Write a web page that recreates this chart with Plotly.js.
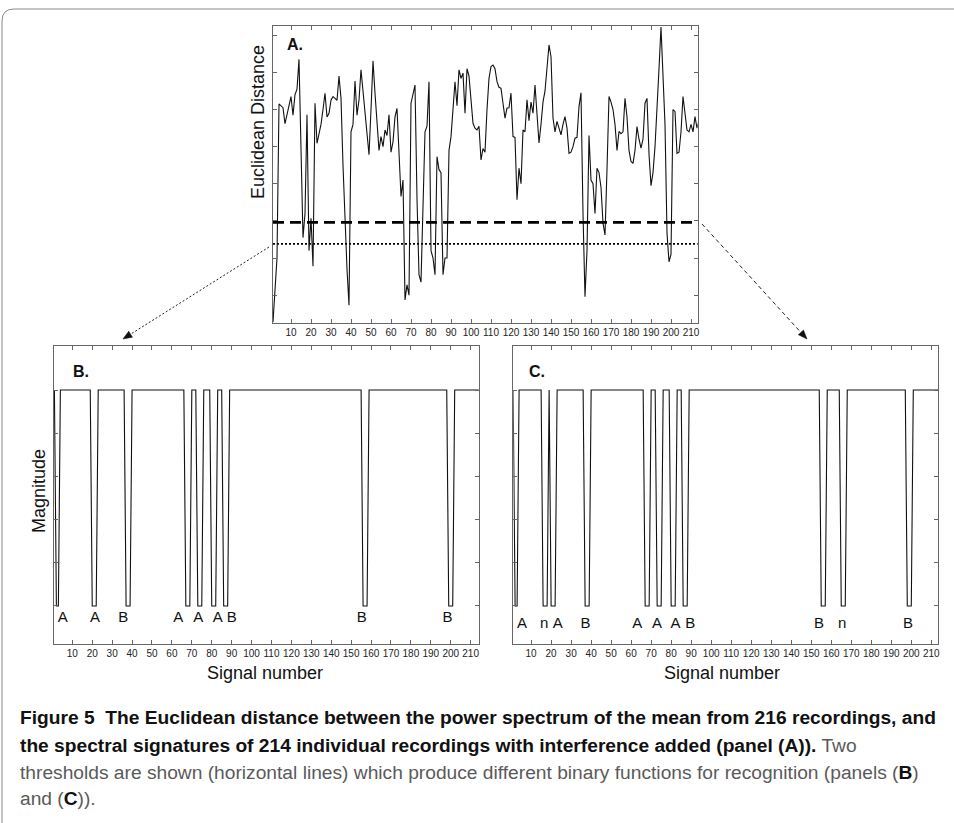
<!DOCTYPE html>
<html><head><meta charset="utf-8">
<script src="https://cdn.plot.ly/plotly-3.0.1.min.js"></script>
<style>html,body{margin:0;padding:0;background:#fff}#chart{width:954px;height:823px}</style>
</head><body><div id="chart"></div>
<script>
// ---- data ----
const signalNumber = Array.from({length: 214}, (_, k) => k + 1);
const euclideanDistance = [
 -0.72, 0.3, 1.0, 5.15, 5.1, 5.05, 4.62, 4.85, 5.1, 5.35,
 4.85, 5.4, 5.55, 6.35, 3.95, 1.55, 2.2, 4.86, 1.2, 2.07,
 0.78, 5.17, 4.09, 4.33, 4.6, 5.0, 5.44, 4.8, 4.9, 5.25,
 5.35, 5.3, 5.25, 5.9, 5.3, 3.5, 2.0, 0.7, -0.27, 4.4,
 4.6, 5.77, 4.85, 5.26, 6.07, 5.45, 4.9, 4.4, 3.78, 5.0,
 6.31, 5.44, 4.67, 3.9, 4.27, 4.0, 4.45, 4.3, 4.86, 3.85,
 4.13, 4.8, 5.03, 4.0, 2.66, 3.1, -0.13, 0.28, 0.0, 5.17,
 5.4, 5.66, 2.6, 0.55, 0.35, 2.2, 4.4, 4.55, 5.75, 1.2,
 1.0, 0.55, 3.73, 3.38, 3.3, 0.55, 1.0, 1.0, 3.9, 4.27,
 5.17, 5.75, 5.1, 6.07, 5.84, 5.98, 4.9, 6.1, 5.9, 5.3,
 4.63, 4.5, 4.45, 4.55, 3.64, 3.95, 3.85, 5.0, 5.84, 6.16,
 6.2, 6.1, 5.75, 5.6, 5.57, 5.17, 4.77, 5.04, 5.05, 5.44,
 4.27, 4.25, 2.57, 3.42, 3.0, 4.45, 4.4, 5.26, 4.7, 5.2,
 4.9, 5.66, 4.8, 4.1, 4.6, 5.2, 5.5, 6.16, 6.74, 6.43,
 4.77, 4.4, 4.68, 4.5, 4.32, 4.6, 4.81, 4.5, 3.82, 3.85,
 4.0, 4.23, 4.25, 5.08, 5.45, 2.2, -0.04, 1.2, 4.3, 3.1,
 3.0, 2.2, 3.42, 3.3, 2.9, 1.94, 1.62, 3.4, 5.35, 5.2,
 5.0, 4.6, 3.9, 4.41, 4.35, 4.4, 5.3, 4.8, 3.9, 3.6,
 3.55, 3.9, 4.54, 4.2, 3.96, 4.2, 5.17, 5.3, 3.8, 2.95,
 3.3, 4.0, 4.9, 6.1, 7.22, 6.0, 4.6, 1.67, 0.9, 1.1,
 5.0, 4.95, 3.82, 3.85, 4.4, 5.35, 4.8, 4.45, 4.4, 4.6,
 4.4, 4.81, 4.5, 4.7
];
const thresholdHigh = 1.96;   // dashed
const thresholdLow = 1.38;    // dotted
// signal numbers where the binary function drops to 0
const zerosB = [2,3,20,21,22,37,38,39,67,68,69,73,74,75,80,81,82,86,87,88,156,157,158,199,200,201];
const zerosC = [2,3,16,17,18,20,21,22,37,38,39,67,68,69,73,74,75,80,81,82,86,87,88,155,156,157,165,166,167,198,199,200];
const labelsBx = [5.2, 21.4, 35.6, 63.2, 73.2, 83, 90, 155.3, 198.4];
const labelsBtext = ['A','A','B','A','A','A','B','B','B'];
const labelsCx = [5.4, 16.5, 23.3, 37.2, 63.1, 72.9, 82.2, 89.5, 153.9, 165.5, 198.4];
const labelsCtext = ['A','n','A','B','A','A','A','B','B','n','B'];
const labelYB = -0.059, labelYC = -0.083;
const xTickVals = [10,20,30,40,50,60,70,80,90,100,110,120,130,140,150,160,170,180,190,200,210];
const xTickText = xTickVals.map(String);

// ---- helpers ----
const W = 954, H = 823;
const px = p => p / W;
const py = p => 1 - p / H;
const magB = signalNumber.map(s => zerosB.includes(s) ? 0 : 1);
const magC = signalNumber.map(s => zerosC.includes(s) ? 0 : 1);

const FONT = 'Liberation Sans, Arial, sans-serif';
const axisBase = {
  showgrid: false, zeroline: false, showline: true, linecolor: '#666', linewidth: 1,
  mirror: 'ticks', ticks: 'inside', ticklen: 4, tickwidth: 1, tickcolor: '#666',
  fixedrange: true
};
function xAxis(domain, range, anchor) {
  return Object.assign({}, axisBase, {
    domain, range, anchor, tickvals: xTickVals, ticktext: xTickText,
    tickfont: {family: FONT, size: 10, color: '#222'}
  });
}
function yAxis(domain, range, anchor, dtick) {
  return Object.assign({}, axisBase, {
    domain, range, anchor, tick0: 0, dtick, showticklabels: false
  });
}

const traces = [
  {x: signalNumber, y: euclideanDistance, xaxis: 'x', yaxis: 'y', mode: 'lines',
   line: {color: '#111', width: 1.1}},
  {x: [1, 214], y: [thresholdHigh, thresholdHigh], xaxis: 'x', yaxis: 'y', mode: 'lines',
   line: {color: '#000', width: 2.6, dash: '11px,6px'}},
  {x: [1, 214], y: [thresholdLow, thresholdLow], xaxis: 'x', yaxis: 'y', mode: 'lines',
   line: {color: '#000', width: 1.6, dash: '2px,2px'}},
  {x: signalNumber, y: magB, xaxis: 'x2', yaxis: 'y2', mode: 'lines',
   line: {color: '#111', width: 1.1}},
  {x: signalNumber, y: magC, xaxis: 'x3', yaxis: 'y3', mode: 'lines',
   line: {color: '#111', width: 1.1}},
  {x: labelsBx, y: labelsBx.map(() => labelYB), text: labelsBtext, xaxis: 'x2', yaxis: 'y2',
   mode: 'text', textfont: {family: FONT, size: 15, color: '#111'}, cliponaxis: false},
  {x: labelsCx, y: labelsCx.map(() => labelYC), text: labelsCtext, xaxis: 'x3', yaxis: 'y3',
   mode: 'text', textfont: {family: FONT, size: 15, color: '#111'}, cliponaxis: false}
];

const GREY = '#5a5a5a';
const CAP = 'Liberation Sans Narrow, Arial Narrow, Liberation Sans, sans-serif';
function capLine(text, yPix) {
  return {xref: 'paper', yref: 'paper', x: px(18), y: py(yPix), xanchor: 'left', yanchor: 'middle',
    showarrow: false, text, font: {family: CAP, size: 19.2, color: '#111'}, align: 'left'};
}
function lbl(text, xPix, yPix, size, angle, bold) {
  return {xref: 'paper', yref: 'paper', x: px(xPix), y: py(yPix), xanchor: 'center', yanchor: 'middle',
    showarrow: false, text: bold ? '<b>' + text + '</b>' : text, textangle: angle || 0,
    font: {family: FONT, size, color: '#111'}};
}

const annotations = [
  lbl('A.', 295, 44, 16, 0, true),
  lbl('B.', 81, 371, 16, 0, true),
  lbl('C.', 537, 371, 16, 0, true),
  lbl('Euclidean Distance', 258, 122, 18, -90),
  lbl('Magnitude', 39, 491, 18, -90),
  lbl('Signal number', 265, 673, 18),
  lbl('Signal number', 722, 673, 18),
  capLine('<b>Figure 5\u00a0 The Euclidean distance between the power spectrum of the mean from 216 recordings, and</b>', 717),
  capLine('<b>the spectral signatures of 214 individual recordings with interference added (panel (A)).</b> <span style="color:' + GREY + '">Two</span>', 745),
  capLine('<span style="color:' + GREY + '">thresholds are shown (horizontal lines) which produce different binary functions for recognition (panels (</span><b>B</b><span style="color:' + GREY + '">)</span>', 772),
  capLine('<span style="color:' + GREY + '">and (</span><b>C</b><span style="color:' + GREY + '">)).</span>', 798)
];

function tri(tip, base1, base2) {
  return 'M ' + px(tip[0]) + ',' + py(tip[1]) + ' L ' + px(base1[0]) + ',' + py(base1[1]) +
         ' L ' + px(base2[0]) + ',' + py(base2[1]) + ' Z';
}
const shapes = [
  // figure frame (rounded top-left corner)
  {type: 'path', xref: 'paper', yref: 'paper',
   path: 'M ' + px(2) + ',' + py(823) + ' L ' + px(2) + ',' + py(21) +
         ' Q ' + px(2) + ',' + py(9) + ' ' + px(14) + ',' + py(9) + ' L ' + px(954) + ',' + py(9),
   line: {color: '#8a8a8a', width: 1}},
  // left dotted arrow
  {type: 'line', xref: 'paper', yref: 'paper', x0: px(269), y0: py(247), x1: px(130.6), y1: py(334.2),
   line: {color: '#222', width: 1, dash: '2px,2px'}},
  {type: 'path', xref: 'paper', yref: 'paper', path: tri([123, 339], [132.5, 337.2], [128.7, 331.2]),
   fillcolor: '#111', line: {color: '#111', width: 0.5}},
  // right dashed arrow
  {type: 'line', xref: 'paper', yref: 'paper', x0: px(702), y0: py(224), x1: px(800.9), y1: py(332.4),
   line: {color: '#222', width: 1, dash: '4px,3px'}},
  {type: 'path', xref: 'paper', yref: 'paper', path: tri([807, 339], [798.3, 334.7], [803.5, 330.0]),
   fillcolor: '#111', line: {color: '#111', width: 0.5}}
];

const layout = {
  width: W, height: H, margin: {l: 0, r: 0, t: 0, b: 0},
  paper_bgcolor: '#fff', plot_bgcolor: '#fff', showlegend: false,
  font: {family: FONT, color: '#111'},
  xaxis: xAxis([px(272.7), px(697.7)], [0.85, 213.35], 'y'),
  yaxis: yAxis([py(323), py(26)], [-0.75, 7.25], 'x', 1),
  xaxis2: xAxis([px(54), px(479)], [0.8, 214.2], 'y2'),
  yaxis2: yAxis([py(644), py(346)], [-0.176, 1.204], 'x2', 0.2),
  xaxis3: xAxis([px(513.3), px(938.3)], [1.1, 213.5], 'y3'),
  yaxis3: yAxis([py(644), py(346)], [-0.176, 1.204], 'x3', 0.2),
  annotations, shapes
};

Plotly.newPlot('chart', traces, layout, {staticPlot: true, displayModeBar: false});
</script>
</body></html>
